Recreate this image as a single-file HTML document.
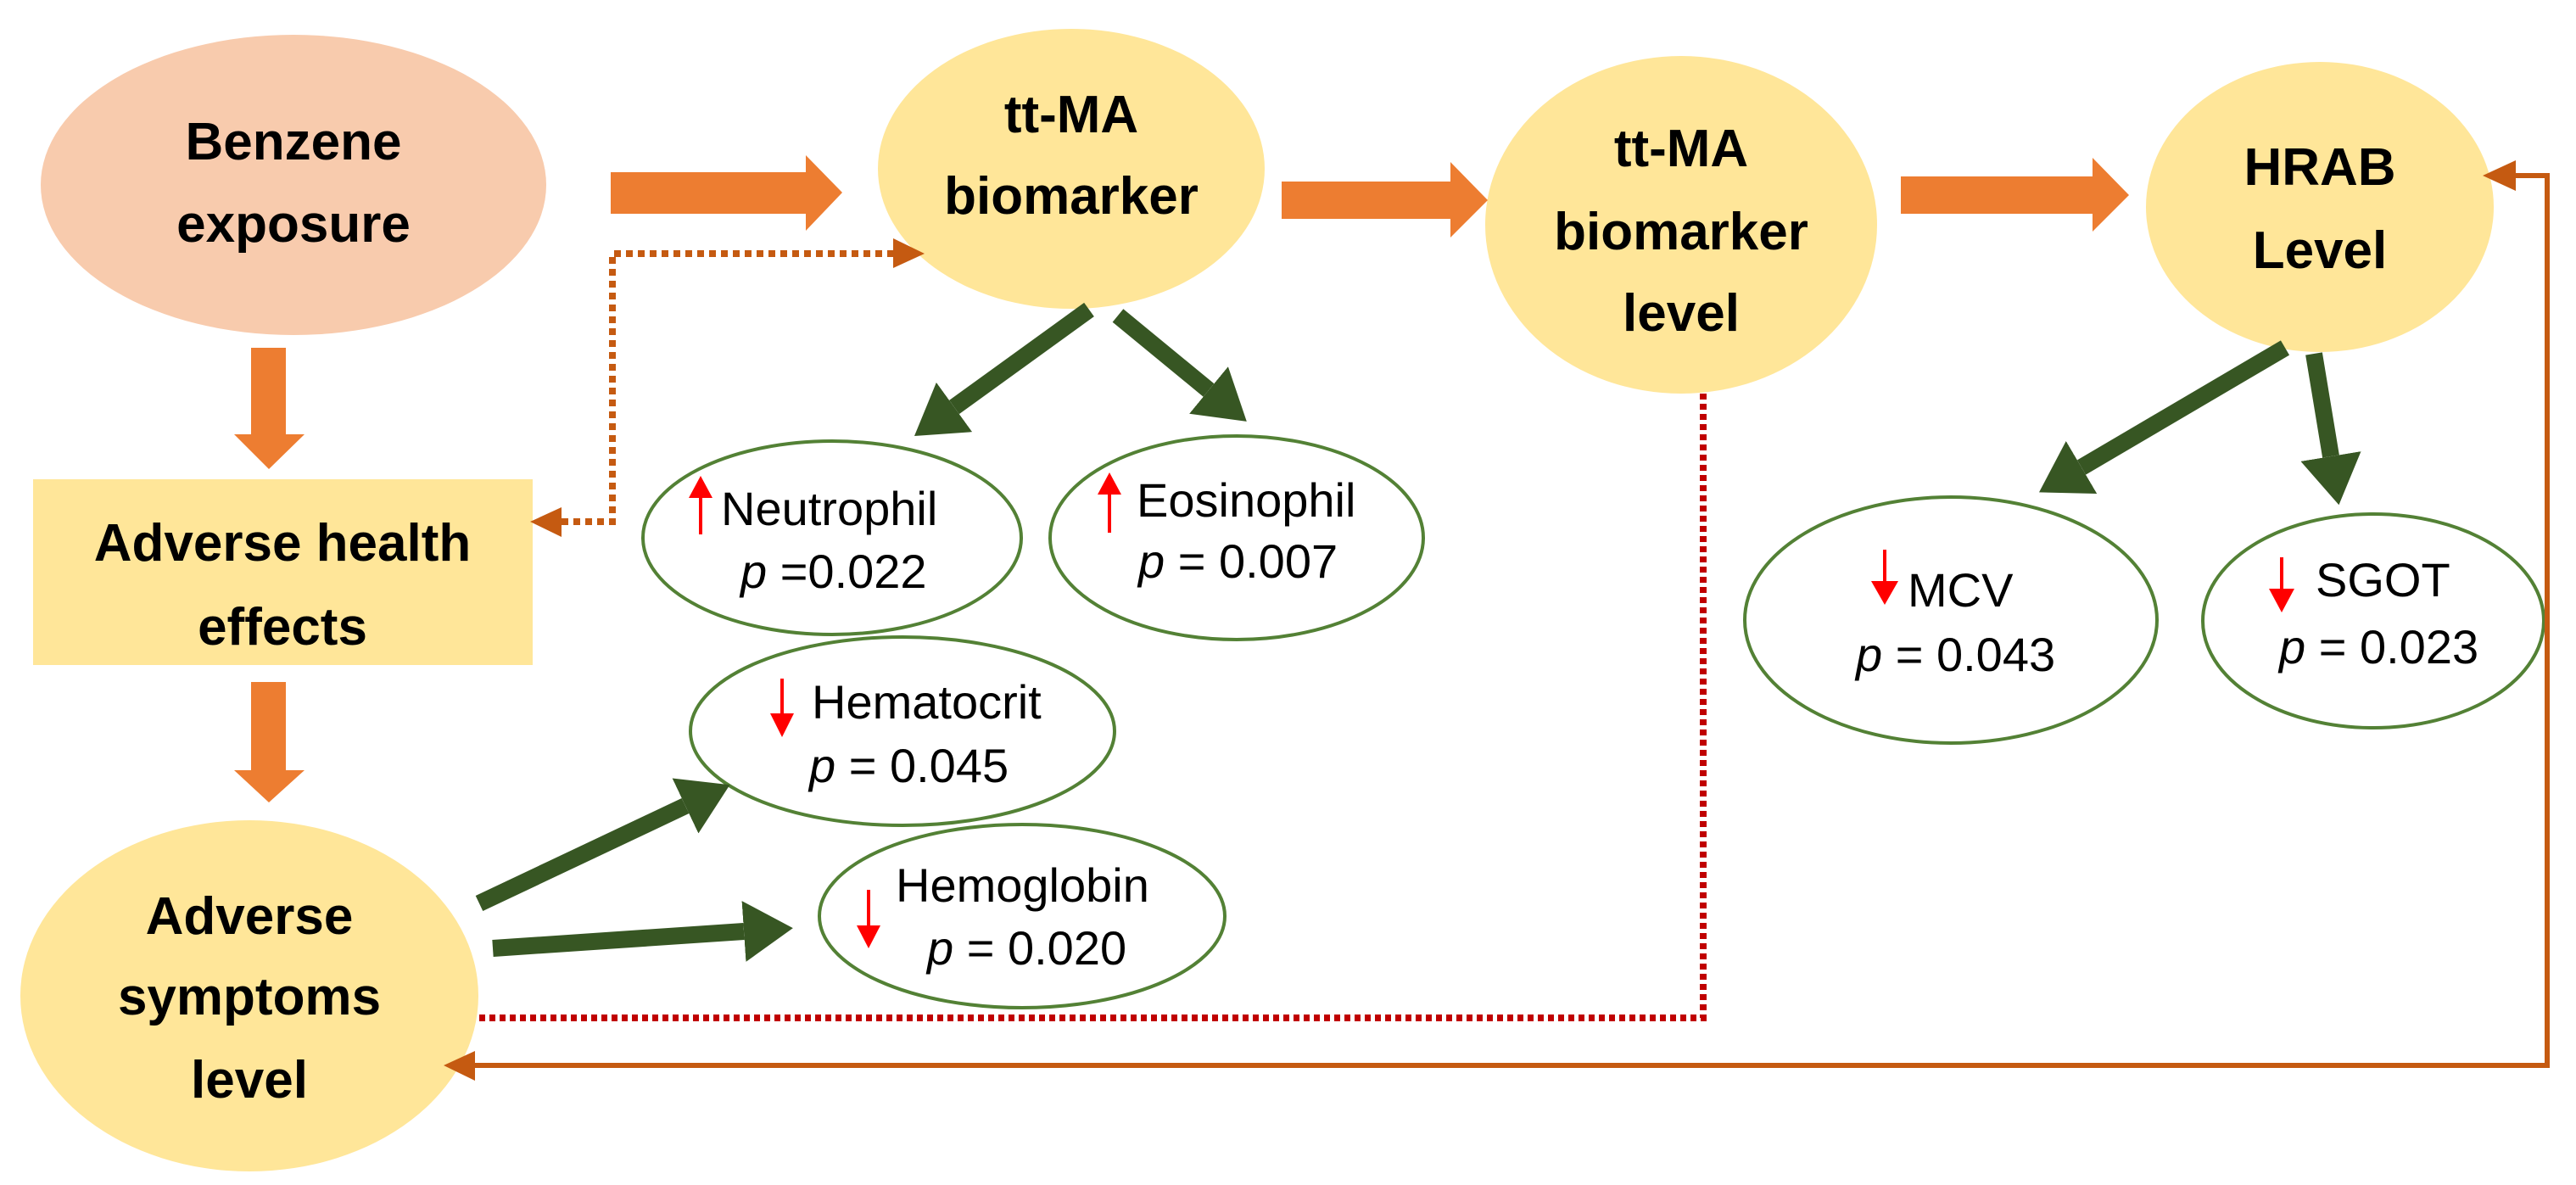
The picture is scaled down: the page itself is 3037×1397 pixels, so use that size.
<!DOCTYPE html>
<html><head><meta charset="utf-8"><style>
html,body{margin:0;padding:0;background:#fff;overflow:hidden;}
svg{display:block;}
.b{font-family:"Liberation Sans",sans-serif;font-weight:bold;font-size:62px;fill:#000;}
.s{font-family:"Liberation Sans",sans-serif;font-size:56px;fill:#000;}
</style></head><body>
<svg width="3037" height="1397" viewBox="0 0 3037 1397" xmlns="http://www.w3.org/2000/svg">
<defs>
<marker id="g" markerUnits="userSpaceOnUse" markerWidth="60" markerHeight="76" refX="0" refY="36" orient="auto">
<path d="M0,0 L58,36 L0,72 z" fill="#375623"/></marker>
</defs>
<!-- nodes -->
<ellipse cx="346" cy="218" rx="298" ry="177" fill="#F8CBAD"/>
<ellipse cx="1263" cy="199" rx="228" ry="165" fill="#FFE699"/>
<ellipse cx="1982" cy="265" rx="231" ry="199" fill="#FFE699"/>
<ellipse cx="2735" cy="244" rx="205" ry="171" fill="#FFE699"/>
<rect x="39" y="565" width="589" height="219" fill="#FFE699"/>
<ellipse cx="294" cy="1174" rx="270" ry="207" fill="#FFE699"/>

<g fill="#fff" stroke="#538135" stroke-width="4">
<ellipse cx="981" cy="634" rx="223" ry="114"/>
<ellipse cx="1458" cy="634" rx="220" ry="120"/>
<ellipse cx="1064" cy="862" rx="250" ry="111"/>
<ellipse cx="1205" cy="1080" rx="239" ry="108"/>
<ellipse cx="2300" cy="731" rx="243" ry="145"/>
<ellipse cx="2798" cy="732" rx="201" ry="126"/>
</g>

<!-- orange block arrows -->
<g fill="#ED7D31">
<polygon points="720,203 950,203 950,183 993,227 950,272 950,252 720,252"/>
<polygon points="1511,214 1710,214 1710,191 1754,236 1710,280 1710,258 1511,258"/>
<polygon points="2241,208 2467,208 2467,186 2510,230 2467,273 2467,252 2241,252"/>
<polygon points="296,410 337,410 337,512 359,512 317,553 276,512 296,512"/>
<polygon points="296,804 337,804 337,908 359,908 317,946 276,908 296,908"/>
</g>

<!-- dotted orange -->
<polyline points="662,615 722,615 722,299 1055,299" fill="none" stroke="#C55A11" stroke-width="8" stroke-dasharray="8,6"/>
<polygon points="1053,281 1090,299 1053,316" fill="#C55A11"/>
<polygon points="662,598 625,615 662,633" fill="#C55A11"/>

<!-- red dotted -->
<polyline points="565,1200 2008,1200 2008,463" fill="none" stroke="#C00000" stroke-width="8" stroke-dasharray="7,5"/>

<!-- feedback orange -->
<polyline points="558,1256 3003,1256 3003,207 2962,207" fill="none" stroke="#C55A11" stroke-width="6"/>
<polygon points="2966,189 2927,207 2966,225" fill="#C55A11"/>
<polygon points="560,1239 523,1256 560,1274" fill="#C55A11"/>

<!-- green arrows -->
<g stroke="#375623" stroke-width="20" marker-end="url(#g)">
<line x1="1284" y1="365" x2="1125" y2="480"/>
<line x1="1318" y1="372" x2="1425" y2="460"/>
<line x1="565" y1="1065" x2="808" y2="950"/>
<line x1="581" y1="1118" x2="877" y2="1098"/>
<line x1="2694" y1="410" x2="2454" y2="551"/>
<line x1="2728" y1="417" x2="2748" y2="538"/>
</g>

<!-- red small arrows -->
<g fill="#FF0000" stroke="#FF0000">
<line x1="826" y1="584" x2="826" y2="630" stroke-width="4"/><polygon points="812,587 826,561 840,587" stroke="none"/>
<line x1="1308" y1="580" x2="1308" y2="628" stroke-width="4"/><polygon points="1294,583 1308,557 1322,583" stroke="none"/>
<line x1="922" y1="800" x2="922" y2="846" stroke-width="4"/><polygon points="908,841 922,869 936,841" stroke="none"/>
<line x1="1024" y1="1049" x2="1024" y2="1095" stroke-width="4"/><polygon points="1010,1091 1024,1118 1038,1091" stroke="none"/>
<line x1="2222" y1="648" x2="2222" y2="690" stroke-width="4"/><polygon points="2206,685 2222,713 2238,685" stroke="none"/>
<line x1="2690" y1="657" x2="2690" y2="699" stroke-width="4"/><polygon points="2675,694 2690,722 2705,694" stroke="none"/>
</g>

<!-- bold labels -->
<g class="b" text-anchor="middle">
<text x="346" y="188">Benzene</text>
<text x="346" y="285">exposure</text>
<text x="1263" y="156">tt-MA</text>
<text x="1263" y="252">biomarker</text>
<text x="1982" y="196">tt-MA</text>
<text x="1982" y="294">biomarker</text>
<text x="1982" y="390">level</text>
<text x="2735" y="218">HRAB</text>
<text x="2735" y="316">Level</text>
<text x="333" y="661">Adverse health</text>
<text x="333" y="760">effects</text>
<text x="294" y="1101">Adverse</text>
<text x="294" y="1196">symptoms</text>
<text x="294" y="1294">level</text>
</g>

<!-- small labels -->
<g class="s">
<text x="850" y="619">Neutrophil</text>
<text x="873" y="693"><tspan font-style="italic">p</tspan> =0.022</text>
<text x="1340" y="609">Eosinophil</text>
<text x="1342" y="681"><tspan font-style="italic">p</tspan> = 0.007</text>
<text x="957" y="847">Hematocrit</text>
<text x="954" y="922"><tspan font-style="italic">p</tspan> = 0.045</text>
<text x="1056" y="1063">Hemoglobin</text>
<text x="1093" y="1137"><tspan font-style="italic">p</tspan> = 0.020</text>
<text x="2249" y="715">MCV</text>
<text x="2188" y="791"><tspan font-style="italic">p</tspan> = 0.043</text>
<text x="2730" y="703">SGOT</text>
<text x="2687" y="782"><tspan font-style="italic">p</tspan> = 0.023</text>
</g>
</svg>
</body></html>
